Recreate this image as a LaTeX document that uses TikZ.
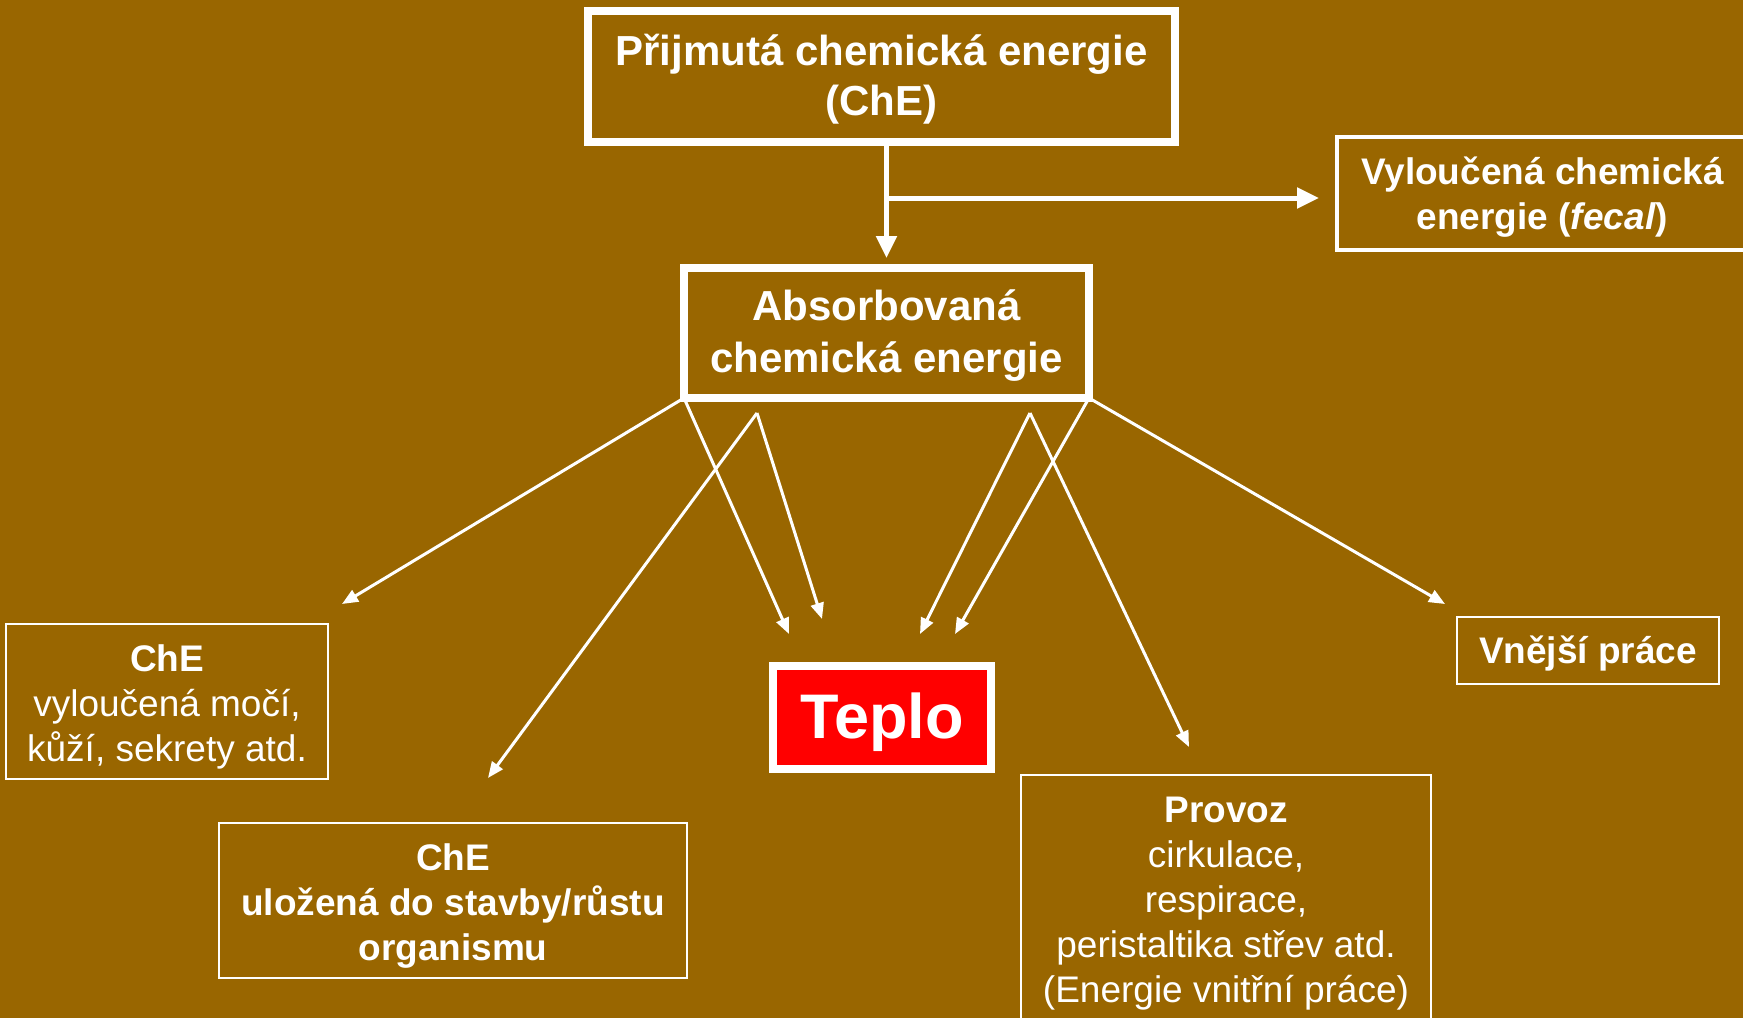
\documentclass[tikz,border=0pt]{standalone}
\usepackage{fontspec}
\setmainfont{Liberation Sans}
\usetikzlibrary{arrows.meta}
\definecolor{bg}{RGB}{153,102,0}
\definecolor{tred}{RGB}{255,0,0}
\begin{document}
\begin{tikzpicture}[x=1pt,y=-1pt,
  every node/.style={inner sep=0pt, outer sep=0pt, text=white, align=center},
  thickbox/.style={draw=white, line width=8pt},
  midbox/.style={draw=white, line width=4pt},
  thinbox/.style={draw=white, line width=2pt},
  bigfont/.style={font=\fontsize{42}{50}\selectfont\bfseries},
  smallbold/.style={font=\fontsize{37}{45}\selectfont\bfseries},
  smallreg/.style={font=\fontsize{37}{45}\selectfont},
  mainarrow/.style={draw=white, line width=5pt, -{Triangle[width=20pt,length=22pt]}},
  thinarrow/.style={draw=white, line width=3pt, -{Triangle[width=13pt,length=16pt]}},
]
\fill[bg] (0,0) rectangle (1743,1018);
\useasboundingbox (0,0) rectangle (1743,1018);

% boxes
\node[thickbox, minimum width=587pt, minimum height=131pt] (top) at (881.5,76.5) {};
\node[bigfont, yshift=-2.5pt] (topt) at (top.center) {Přijmutá chemická energie\\(ChE)};

\node[midbox, minimum width=411pt, minimum height=113pt] (fecal) at (1542.5,193.5) {};
\node[smallbold, yshift=-3.5pt] (fecalt) at (fecal.center) {Vyloučená chemická\\energie (\textit{fecal})};

\node[thickbox, minimum width=405pt, minimum height=130pt] (abs) at (886.5,333) {};
\node[font=\fontsize{42}{52}\selectfont\bfseries, yshift=-2.5pt] (abst) at (abs.center) {Absorbovaná\\chemická energie};

\node[thickbox, fill=tred, minimum width=218pt, minimum height=103pt] (teplo) at (882,717.5) {};
\node[font=\fontsize{63}{70}\selectfont\bfseries, yshift=-5pt] (teplot) at (teplo.center) {Teplo};

\node[thinbox, minimum width=322pt, minimum height=155pt] (chel) at (167,701.5) {};
\node[smallreg, yshift=-5.5pt] (chelt) at (chel.center) {\textbf{ChE}\\vyloučená močí,\\kůží, sekrety atd.};

\node[thinbox, minimum width=468pt, minimum height=155pt] (uloz) at (453,900.5) {};
\node[smallbold, yshift=-5.5pt] (ulozt) at (uloz.center) {ChE\\uložená do stavby/růstu\\organismu};

\node[thinbox, minimum width=262pt, minimum height=67pt] (vnej) at (1588,650.5) {};
\node[smallbold, yshift=-3.5pt] (vnejt) at (vnej.center) {Vnější práce};

\node[thinbox, minimum width=410pt, minimum height=246pt] (prov) at (1226,898) {};
\node[smallreg, yshift=-5.5pt] (provt) at (prov.center) {\textbf{Provoz}\\cirkulace,\\respirace,\\peristaltika střev atd.\\(Energie vnitřní práce)};

% main arrows
\coordinate (br) at (886.5,198);
\draw[mainarrow, shorten >=10pt] (top.south -| abs.north) -- (abs.north);
\draw[mainarrow, shorten >=18pt] (br) -- (br -| fecal.west);

% thin arrows
\coordinate (a1) at (757,413);
\coordinate (a2) at (1030,413);
\coordinate (t1) at (342,604);
\coordinate (t2) at (789,634);
\coordinate (t3) at (488,778);
\coordinate (t4) at (822,619);
\coordinate (t5) at (920,634);
\coordinate (t6) at (1189,747);
\coordinate (t7) at (955,634);
\coordinate (t8) at (1445,604);
\draw[thinarrow] (abs.south west) -- (t1);
\draw[thinarrow] (abs.south west) -- (t2);
\draw[thinarrow] (a1) -- (t3);
\draw[thinarrow] (a1) -- (t4);
\draw[thinarrow] (a2) -- (t5);
\draw[thinarrow] (a2) -- (t6);
\draw[thinarrow] (abs.south east) -- (t7);
\draw[thinarrow] (abs.south east) -- (t8);
\end{tikzpicture}
\end{document}
